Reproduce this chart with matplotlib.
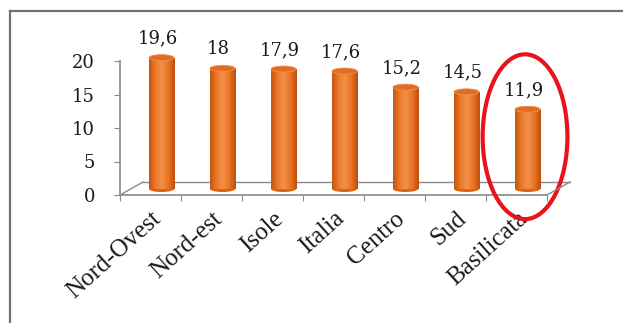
import matplotlib
matplotlib.use("Agg")
import matplotlib.pyplot as plt
import numpy as np
from matplotlib.patches import Ellipse
from matplotlib.lines import Line2D
from matplotlib.transforms import offset_copy
from matplotlib.colors import LinearSegmentedColormap

# Dati per ripartizione
regioni = ['Nord-Ovest', 'Nord-est', 'Isole', 'Italia', 'Centro', 'Sud', 'Basilicata']
valori = [19.6, 18, 17.9, 17.6, 15.2, 14.5, 11.9]
ticks_y = [0, 5, 10, 15, 20]

fig = plt.figure(figsize=(6.23, 3.23), dpi=100)
ax = fig.add_axes([120 / 623, 128 / 323, 427 / 623, 134 / 323])
ax.set_xlim(0, len(regioni))
ax.set_ylim(0, 20)

# cornice esterna
bordo = '#707070'
fig.add_artist(Line2D([10 / 623, 10 / 623], [0, 312 / 323], transform=fig.transFigure,
                      color=bordo, lw=1.6))
fig.add_artist(Line2D([10 / 623, 1], [312 / 323, 312 / 323], transform=fig.transFigure,
                      color=bordo, lw=1.6))

# pavimento in prospettiva
grigio = '#8a8a8a'
back = offset_copy(ax.transData, fig=fig, x=23, y=13, units='dots')
ax.plot([0, len(regioni)], [0, 0], color=grigio, lw=1, transform=back, clip_on=False)
for xx in (0, len(regioni)):
    p0 = ax.transData.transform((xx, 0))
    p1 = back.transform((xx, 0))
    fig.add_artist(Line2D([p0[0] / 623, p1[0] / 623], [p0[1] / 323, p1[1] / 323],
                          transform=fig.transFigure, color=grigio, lw=1))

# colonne cilindriche
mid = offset_copy(ax.transData, fig=fig, x=11, y=6, units='dots')
cmap = LinearSegmentedColormap.from_list('cil', ['#c4550f', '#ec7a2a', '#f3904a', '#e97424', '#bd4f0d'])
grad = np.linspace(0, 1, 64).reshape(1, -1)
w = 0.41
xs = np.arange(len(regioni)) + 0.5
bars = ax.bar(xs, valori, width=w, color='#e8701f', linewidth=0, zorder=3)
for b, x, v in zip(bars, xs, valori):
    b.set_transform(mid)
    b.set_clip_on(False)
    base = Ellipse((x, 0), w, 0.9, transform=mid, facecolor='#d86418', lw=0, zorder=2, clip_on=False)
    ax.add_patch(base)
    img = ax.imshow(grad, cmap=cmap, aspect='auto', extent=(x - w / 2, x + w / 2, 0, v),
                    transform=mid, zorder=3.5, interpolation='bilinear')
    img.set_clip_path(b)
    cap = Ellipse((x, v), w, 0.9, transform=mid, facecolor='#e26c20',
                  edgecolor='#f09050', lw=0.6, zorder=4, clip_on=False)
    ax.add_patch(cap)
    ax.annotate(f'{v:g}'.replace('.', ','), xy=(x, v), xycoords=mid,
                xytext=(-4, 14), textcoords='offset pixels', ha='center', va='baseline',
                fontsize=13, family='DejaVu Serif', color='#1a1a1a')

ax.set_xlim(0, len(regioni))
ax.set_ylim(0, 20)

# assi
for s in ('top', 'right'):
    ax.spines[s].set_visible(False)
for s in ('left', 'bottom'):
    ax.spines[s].set_color(grigio)
    ax.spines[s].set_linewidth(1.2)
ax.set_yticks(ticks_y)
ax.set_yticklabels([str(t) for t in ticks_y], family='DejaVu Serif', fontsize=13, color='#1a1a1a')
ax.tick_params(axis='y', length=4, color=grigio, pad=14)
ax.set_xticks(np.arange(len(regioni) + 1))
ax.set_xticklabels([])
ax.tick_params(axis='x', which='major', length=4, color=grigio)
ax.set_xticks(xs, minor=True)
ax.set_xticklabels(regioni, minor=True, rotation=42, ha='right', rotation_mode='anchor',
                   family='Liberation Serif', fontsize=18, color='#1a1a1a')
ax.tick_params(axis='x', which='minor', length=0, pad=9)

# evidenzia la Basilicata
ax.add_patch(Ellipse((6.64, 8.7), 1.39, 24.6, fill=False, edgecolor='#e8141c', lw=3,
                     zorder=6, clip_on=False))

fig.savefig('out.png', dpi=100)
